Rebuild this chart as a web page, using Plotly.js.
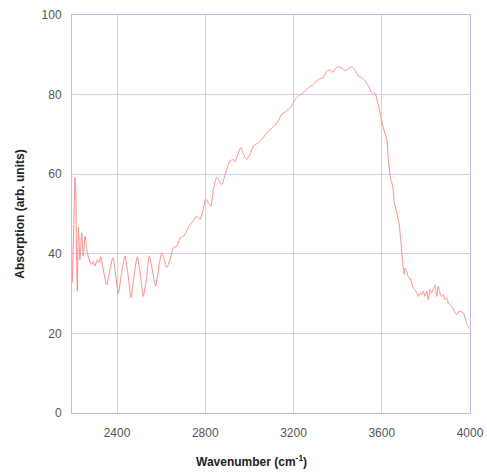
<!DOCTYPE html>
<html>
<head>
<meta charset="utf-8">
<script src="https://cdn.plot.ly/plotly-3.0.1.min.js"></script>
<style>html,body{margin:0;padding:0;background:#fff;}#chart{width:487px;height:475px;}</style>
</head>
<body>
<div id="chart"></div>
<script>
// Wavenumber (cm^-1)
const wavenumber = [
  2197, 2203, 2210, 2213, 2216, 2220, 2225, 2232, 2240, 2247, 2255, 2263, 2274, 2285, 2293, 2300,
  2311, 2320, 2326, 2338, 2353, 2368, 2381, 2391, 2406, 2421, 2436, 2451, 2463, 2477, 2492, 2507,
  2519, 2535, 2546, 2562, 2575, 2590, 2603, 2614, 2625, 2640, 2655, 2671, 2686, 2701, 2716, 2731,
  2746, 2761, 2776, 2791, 2802, 2814, 2825, 2837, 2852, 2864, 2875, 2890, 2912, 2927, 2935, 2950,
  2961, 2973, 2988, 3003, 3018, 3041, 3063, 3086, 3109, 3131, 3147, 3169, 3192, 3207, 3222, 3245,
  3267, 3290, 3313, 3335, 3351, 3366, 3378, 3388, 3403, 3419, 3434, 3449, 3464, 3479, 3494, 3509,
  3524, 3539, 3555, 3570, 3580, 3592, 3607, 3623, 3630, 3641, 3650, 3657, 3668, 3678, 3686, 3693,
  3702, 3705, 3713, 3720, 3728, 3736, 3743, 3751, 3759, 3766, 3774, 3781, 3788, 3796, 3804, 3811,
  3819, 3826, 3834, 3841, 3849, 3856, 3864, 3872, 3879, 3887, 3894, 3902, 3909, 3917, 3929, 3940,
  3950, 3963, 3973, 3982, 3992, 4000
];
// Absorption (arb. units)
const absorption = [
  32.7, 45.0, 59.2, 56.0, 42.0, 30.6, 46.6, 38.5, 45.3, 39.4, 44.4, 41.0, 38.5, 37.3, 38.1, 36.9,
  38.5, 37.8, 39.3, 36.0, 32.2, 36.0, 39.0, 36.0, 30.0, 35.3, 39.4, 34.3, 29.0, 34.3, 39.3, 34.3,
  29.3, 34.3, 39.5, 35.3, 31.8, 36.9, 40.3, 38.5, 36.5, 38.5, 41.5, 41.9, 44.0, 44.4, 45.7, 47.4,
  48.2, 49.5, 48.6, 51.1, 53.7, 52.8, 52.0, 56.2, 59.3, 58.3, 57.4, 59.9, 63.3, 63.7, 63.1, 65.4,
  66.7, 65.0, 63.7, 65.0, 67.1, 67.9, 69.2, 70.9, 71.9, 73.4, 75.1, 75.9, 77.2, 78.8, 79.7, 80.5,
  81.7, 82.6, 83.9, 84.3, 86.0, 86.1, 85.6, 86.4, 87.0, 86.6, 86.0, 86.4, 87.0, 86.1, 84.7, 84.3,
  83.5, 82.2, 80.5, 80.3, 78.4, 75.5, 71.7, 68.6, 63.7, 58.7, 57.0, 52.8, 50.3, 47.8, 43.6, 39.0,
  34.8, 36.4, 35.6, 34.3, 33.9, 32.7, 31.4, 31.0, 30.1, 29.3, 30.1, 29.7, 30.6, 29.3, 30.6, 28.5,
  31.0, 30.1, 31.4, 32.2, 29.3, 31.9, 30.1, 29.3, 29.7, 28.5, 28.9, 27.6, 27.2, 26.8, 25.5, 24.7,
  25.5, 25.5, 24.7, 23.0, 21.7, 21.2
];
const xTicks = [2400, 2800, 3200, 3600, 4000];
const yTicks = [0, 20, 40, 60, 80, 100];

const gridCol = 'rgb(205,205,255)';
const lineCol = 'rgb(185,185,255)';
const font = {family: 'Liberation Sans, Arial, sans-serif', size: 12, color: '#555'};

Plotly.newPlot('chart', [{
  x: wavenumber, y: absorption, type: 'scatter', mode: 'lines',
  line: {color: 'rgb(255,140,140)', width: 1, shape: 'spline', smoothing: 0.6},
  hoverinfo: 'skip'
}], {
  width: 487, height: 475,
  margin: {l: 72, r: 17, t: 15, b: 62},
  paper_bgcolor: '#fff', plot_bgcolor: '#fff',
  showlegend: false,
  font: font,
  xaxis: {
    range: [2196, 4000], tickvals: xTicks, ticktext: xTicks.map(String),
    showgrid: true, gridcolor: gridCol, gridwidth: 1,
    showline: true, linecolor: lineCol, linewidth: 1, mirror: true,
    zeroline: false, ticks: '', ticklen: 0, tickfont: font, ticklabelstandoff: 9
  },
  yaxis: {
    range: [0, 100], tickvals: yTicks, ticktext: yTicks.map(String),
    showgrid: true, gridcolor: gridCol, gridwidth: 1,
    showline: true, linecolor: lineCol, linewidth: 1, mirror: true,
    zeroline: false, ticks: '', ticklen: 0, tickfont: font, ticklabelstandoff: 7,
    title: {text: 'Absorption (arb. units)', font: {family: 'Liberation Sans, Arial, sans-serif', size: 12, color: '#222', weight: 'bold'}, standoff: 14}
  },
  annotations: [{
    text: 'Wavenumber (cm<sup>-1</sup>)', xref: 'paper', yref: 'paper',
    x: 0.45, y: -0.121, xanchor: 'center', yanchor: 'middle', showarrow: false,
    font: {family: 'Liberation Sans, Arial, sans-serif', size: 12, color: '#222', weight: 'bold'}
  }]
}, {displayModeBar: false, staticPlot: true});
</script>
</body>
</html>
